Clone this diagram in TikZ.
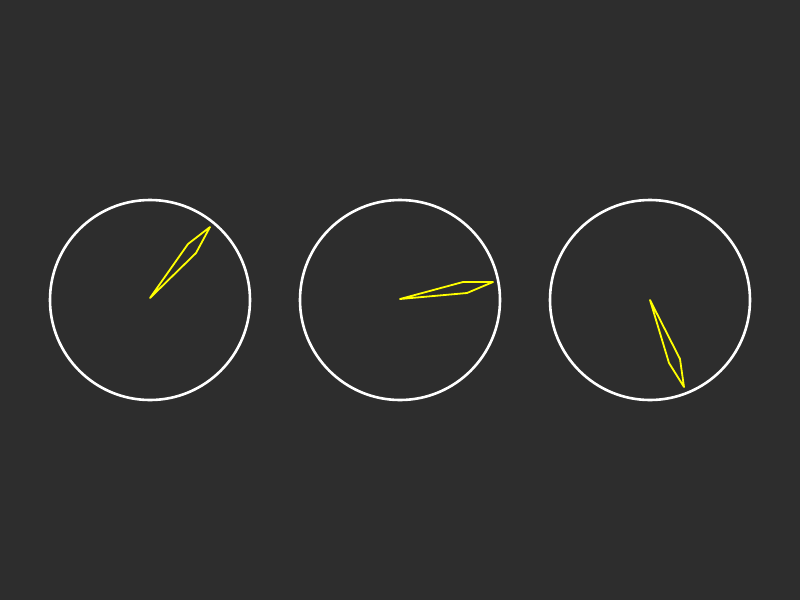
\documentclass[tikz,border=0pt]{standalone}
\definecolor{bg}{HTML}{2D2D2D}
\definecolor{needle}{HTML}{FFFF00}
\begin{document}
\begin{tikzpicture}[x=1pt,y=-1pt,
  dial/.style={draw=white,line width=2.6pt},
  hand/.style={draw=needle,line width=1.8pt,line join=round}]
\fill[bg] (0,0) rectangle (800,600);
\useasboundingbox (0,0) rectangle (800,600);
\node[dial,circle,minimum size=200pt,inner sep=0pt] (c1) at (150,300) {};
\node[dial,circle,minimum size=200pt,inner sep=0pt] (c2) at (400,300) {};
\node[dial,circle,minimum size=200pt,inner sep=0pt] (c3) at (650,300) {};
\draw[hand] (150,298) -- (188,244) -- (210,227) -- (196,253) -- cycle;
\draw[hand] (400,299) -- (463,282) -- (493,282) -- (467,293) -- cycle;
\draw[hand] (650,300) -- (680,359) -- (684,387) -- (669,363) -- cycle;
\end{tikzpicture}
\end{document}
